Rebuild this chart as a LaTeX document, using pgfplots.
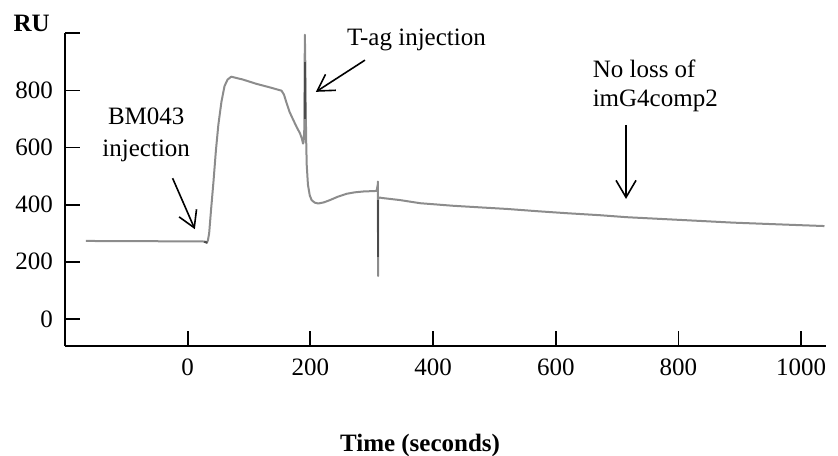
\documentclass[border=0pt]{standalone}
\usepackage{fontspec}
\setmainfont{Liberation Serif}
\usepackage{pgfplots}
\pgfplotsset{compat=1.18}
\usetikzlibrary{arrows.meta}

\definecolor{trace}{RGB}{140,140,140}
\definecolor{tracedark}{RGB}{75,75,75}
\newcommand{\lbl}{\fontsize{25bp}{30bp}\selectfont}

\begin{document}
\begin{tikzpicture}
\useasboundingbox (0,0) rectangle (838bp,456bp);
\begin{axis}[
  at={(65bp,110bp)}, anchor=south west,
  width=760.7bp, height=312.7bp, scale only axis,
  xmin=-200, xmax=1040, ymin=-95, ymax=1000,
  axis lines=left,
  axis line style={-, line width=1.8bp, black},
  every tick/.style={black, line width=1.8bp},
  major tick length=15bp, tick align=inside,
  xtick={0,200,400,600,800,1000},
  ytick={0,200,400,600,800,1000},
  yticklabels={{0\hspace{8bp}},200,400,600,800,{}},
  /pgf/number format/assume math mode=true,
  /pgf/number format/1000 sep={},
  ticklabel style={font=\lbl},
  xticklabel style={yshift=-9bp},
  yticklabel style={xshift=-8.7bp},
  xlabel={Time (seconds)},
  ylabel={RU},
  every axis x label/.style={at={(rel axis cs:0.357,-0.338)}, anchor=base west, font=\lbl\bfseries},
  every axis y label/.style={at={(rel axis cs:-0.0723,1.005)}, anchor=base west, font=\lbl\bfseries},
  no markers,
  clip=false,
]
% sensorgram trace
\addplot[trace, line width=2bp, line join=round] coordinates {
  (-166,273) (-120,272) (-60,272) (0,271) (25,271) (29,270) (31,266)
  (33,275) (35,300) (38,380) (42,480) (46,590) (50,680) (55,760)
  (60,815) (65,838) (71,848) (90,838) (112,823) (135,810) (153,799)
  (157,785) (161,757) (166,725) (172,697) (178,670) (183,650) (186,632)
  (188,614) (189,620) (190,660) (191,995) (192,850) (193,640) (194,540)
  (196,470) (199,432) (202,416) (207,407) (213,404) (222,408) (232,416)
  (245,428) (259,438) (272,443) (286,446) (308,448) (309.8,470)
  (310.1,481) (310.3,150) (310.6,420) (312,425) (318,423) (330,420)
  (346,416) (379,405) (433,396) (480,390) (520,385) (570,377) (618,370)
  (672,363) (716,356) (780,349) (835,343) (889,337) (950,332)
  (1000,328) (1038,325)
};
% darker portions of the injection spikes
\addplot[tracedark, line width=2bp] coordinates {(27,270) (32,267)};
\addplot[tracedark, line width=2bp] coordinates {(191,900) (191,700)};
\addplot[tracedark, line width=2bp] coordinates {(310.3,416) (310.3,218)};

% annotations
\node[font=\lbl, anchor=base, inner sep=0] at (axis cs:-67.6,679) {BM043};
\node[font=\lbl, anchor=base, inner sep=0] at (axis cs:-67.6,568) {injection};
\draw[line width=1.6bp, -{Straight Barb[length=16bp,width=19bp]}]
  (axis cs:-24.6,492.5) -- (axis cs:11.7,314);

\node[font=\lbl, anchor=base west, inner sep=0] at (axis cs:259.6,959) {T-ag injection};
\draw[line width=1.6bp, -{Straight Barb[length=16bp,width=19bp]}]
  (axis cs:289,906) -- (axis cs:209,795);

\node[font=\lbl, anchor=base west, inner sep=0] at (axis cs:660,845.7) {No loss of};
\node[font=\lbl, anchor=base west, inner sep=0] at (axis cs:660,743) {imG4comp2};
\draw[line width=1.6bp, -{Straight Barb[length=17bp,width=20bp]}]
  (axis cs:714.5,679) -- (axis cs:714.5,420);
\end{axis}
\end{tikzpicture}
\end{document}
